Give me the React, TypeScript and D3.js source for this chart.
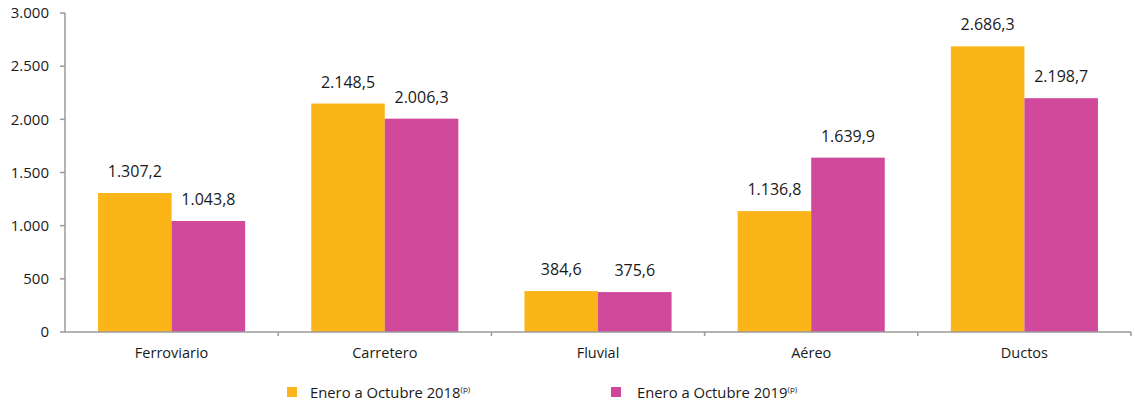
import React from "react";
import * as d3 from "d3";

const categories = ["Ferroviario", "Carretero", "Fluvial", "Aéreo", "Ductos"];
const series2018 = [1307.2, 2148.5, 384.6, 1136.8, 2686.3];
const series2019 = [1043.8, 2006.3, 375.6, 1639.9, 2198.7];
const seriesNames = ["Enero a Octubre 2018", "Enero a Octubre 2019"];
const yTicks = [0, 500, 1000, 1500, 2000, 2500, 3000];

const W = 1135;
const H = 404;
const left = 65;
const right = 1131;
const top = 13;
const bottom = 332;
const colors = ["#FBB518", "#D0499A"];
const font = "'Open Sans', 'Noto Sans', sans-serif";
const axisColor = "#9a9a9a";

const fmt = (v: number, dec: number) => {
  const s = v.toFixed(dec);
  const [int, frac] = s.split(".");
  const intF = int.replace(/\B(?=(\d{3})+(?!\d))/g, ".");
  return frac ? intF + "," + frac : intF;
};

export default function App() {
  const x = d3.scaleBand<string>().domain(categories).range([left, right]).paddingInner(0).paddingOuter(0);
  const y = d3.scaleLinear().domain([0, 3000]).range([bottom, top]);
  const bw = x.bandwidth();
  const barW = bw * 0.345;
  const seriesArr = [series2018, series2019];

  return (
    <svg width={W} height={H} style={{ position: "absolute", left: 0, top: 0 }}>
      <rect width={W} height={H} fill="#fff" />
      {categories.map((c, i) => {
        const cx = (x(c) as number) + bw / 2;
        return seriesArr.map((s, j) => {
          const x0 = j === 0 ? cx - barW : cx;
          return (
            <rect
              key={c + j}
              x={x0}
              y={y(s[i])}
              width={barW}
              height={y(0) - y(s[i])}
              fill={colors[j]}
            />
          );
        });
      })}
      {categories.map((c, i) => {
        const cx = (x(c) as number) + bw / 2;
        return seriesArr.map((s, j) => {
          const lx = j === 0 ? cx - barW / 2 : cx + barW / 2;
          return (
            <text
              key={"l" + c + j}
              x={lx}
              y={y(s[i]) - 16}
              textAnchor="middle"
              fontFamily={font}
              fontSize={16}
              fill="#1a1a1a"
            >
              {fmt(s[i], 1)}
            </text>
          );
        });
      })}
      <line x1={left} x2={left} y1={top} y2={bottom} stroke={axisColor} strokeWidth={1.5} />
      {yTicks.map((t) => (
        <g key={t}>
          <line x1={left - 5} x2={left} y1={y(t)} y2={y(t)} stroke={axisColor} strokeWidth={1.5} />
          <text
            x={left - 16}
            y={y(t)}
            dy="0.35em"
            textAnchor="end"
            fontFamily={font}
            fontSize={15}
            fill="#1a1a1a"
          >
            {fmt(t, 0)}
          </text>
        </g>
      ))}
      <line x1={left} x2={right} y1={bottom} y2={bottom} stroke={axisColor} strokeWidth={1.5} />
      {categories.map((c) => (
        <line
          key={"t" + c}
          x1={(x(c) as number) + bw}
          x2={(x(c) as number) + bw}
          y1={bottom}
          y2={bottom + 4}
          stroke={axisColor}
          strokeWidth={1.5}
        />
      ))}
      {categories.map((c) => (
        <text
          key={"c" + c}
          x={(x(c) as number) + bw / 2}
          y={bottom + 26}
          textAnchor="middle"
          fontFamily={font}
          fontSize={14.5}
          fill="#1a1a1a"
        >
          {c}
        </text>
      ))}
      {seriesNames.map((n, j) => {
        const sx = j === 0 ? 287 : 611;
        const tx = j === 0 ? 310 : 637;
        return (
          <g key={n}>
            <rect x={sx} y={387} width={10} height={10} fill={colors[j]} />
            <text x={tx} y={398} fontFamily={font} fontSize={14.8} fill="#1a1a1a">
              {n}
              <tspan fontSize={8} dy={-6}>(p)</tspan>
            </text>
          </g>
        );
      })}
    </svg>
  );
}
